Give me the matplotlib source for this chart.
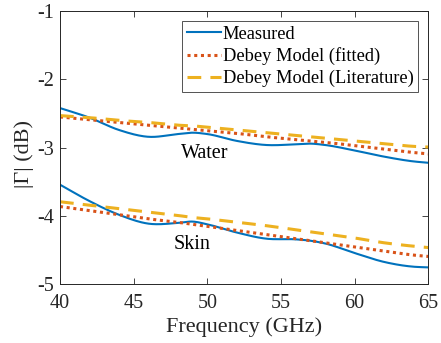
import numpy as np
import matplotlib
matplotlib.use("Agg")
import matplotlib.pyplot as plt

freq = [40, 42, 44, 46, 48, 49, 50, 52, 54, 56, 57, 58, 60, 62, 64, 65]

water_meas = [-2.42, -2.56, -2.74, -2.84, -2.80, -2.78, -2.80, -2.90, -2.96, -2.95, -2.94, -2.96, -3.04, -3.13, -3.20, -3.22]
water_fit = [-2.55, -2.59, -2.63, -2.67, -2.71, -2.73, -2.75, -2.79, -2.84, -2.88, -2.90, -2.92, -2.97, -3.02, -3.07, -3.09]
water_lit = [-2.53, -2.56, -2.60, -2.63, -2.67, -2.68, -2.70, -2.74, -2.78, -2.82, -2.84, -2.86, -2.90, -2.94, -2.98, -2.99]

skin_meas = [-3.54, -3.78, -3.98, -4.11, -4.10, -4.08, -4.12, -4.24, -4.33, -4.34, -4.36, -4.40, -4.54, -4.67, -4.74, -4.75]
skin_fit = [-3.86, -3.92, -3.98, -4.04, -4.09, -4.12, -4.15, -4.21, -4.27, -4.33, -4.36, -4.39, -4.45, -4.51, -4.57, -4.59]
skin_lit = [-3.79, -3.84, -3.89, -3.94, -3.99, -4.02, -4.04, -4.09, -4.14, -4.20, -4.23, -4.26, -4.32, -4.39, -4.44, -4.46]

x_ticks = [40, 45, 50, 55, 60, 65]
y_ticks = [-5, -4, -3, -2, -1]

blue = '#0072BD'
orange = '#D95319'
yellow = '#EDB120'


def smooth(x, y):
    # cubic hermite through the read points
    xs = np.linspace(x[0], x[-1], 300)
    x = np.asarray(x, float)
    y = np.asarray(y, float)
    m = np.gradient(y, x)
    ys = np.empty_like(xs)
    for k, xv in enumerate(xs):
        i = min(np.searchsorted(x, xv, side='right') - 1, len(x) - 2)
        h = x[i + 1] - x[i]
        t = (xv - x[i]) / h
        h00 = 2 * t**3 - 3 * t**2 + 1
        h10 = t**3 - 2 * t**2 + t
        h01 = -2 * t**3 + 3 * t**2
        h11 = t**3 - t**2
        ys[k] = h00 * y[i] + h10 * h * m[i] + h01 * y[i + 1] + h11 * h * m[i + 1]
    return xs, ys


def main():
    plt.rcParams['font.family'] = ['Liberation Serif', 'DejaVu Serif']
    plt.rcParams['axes.unicode_minus'] = False

    fig = plt.figure(figsize=(4.41, 3.43), dpi=100)
    ax = fig.add_axes([0.136, 0.1706, 0.835, 0.7974])

    lw = 1.5
    dot = (0, (1, 1.2))
    dash = (0, (4.5, 3))
    ax.plot(*smooth(freq, water_meas), color=blue, lw=lw, label='Measured')
    ax.plot(*smooth(freq, water_fit), color=orange, lw=2.2, ls=dot, label='Debey Model (fitted)')
    ax.plot(*smooth(freq, water_lit), color=yellow, lw=2.2, ls=dash, label='Debey Model (Literature)')

    ax.plot(*smooth(freq, skin_meas), color=blue, lw=lw)
    ax.plot(*smooth(freq, skin_fit), color=orange, lw=2.2, ls=dot)
    ax.plot(*smooth(freq, skin_lit), color=yellow, lw=2.2, ls=dash)

    ax.text(49.8, -3.08, 'Water', fontsize=14.5, ha='center', va='center')
    ax.text(49.0, -4.41, 'Skin', fontsize=14.5, ha='center', va='center')

    ax.set_xlim(40, 65)
    ax.set_ylim(-5, -1)
    ax.set_xticks(x_ticks)
    ax.set_yticks(y_ticks)
    ax.tick_params(direction='in', top=True, right=True, labelsize=14.5, length=4, width=0.6, colors='#262626')
    ax.tick_params(axis='x', pad=7)
    ax.tick_params(axis='y', pad=4)
    for s in ax.spines.values():
        s.set_linewidth(0.7)
        s.set_color('#262626')

    ax.set_xlabel('Frequency (GHz)', fontsize=16, color='#262626', labelpad=3)
    ax.set_ylabel('|\u0393| (dB)', fontsize=16, color='#262626')
    ax.yaxis.set_label_coords(-0.07, 0.477)

    leg = ax.legend(loc='upper right', fontsize=13.2, frameon=True, fancybox=False,
                    edgecolor='#262626', handlelength=1.86, handletextpad=0.1,
                    borderpad=0.25, labelspacing=0.25, borderaxespad=0.55)
    leg.get_frame().set_linewidth(0.7)

    fig.savefig('out.png', dpi=100)


if __name__ == "__main__":
    main()
